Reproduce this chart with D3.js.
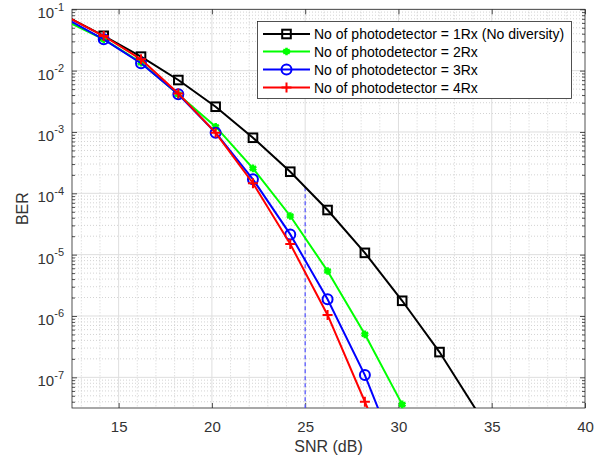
<!DOCTYPE html>
<html>
<head>
<meta charset="utf-8">
<script src="https://cdn.jsdelivr.net/npm/d3@7"></script>
<style>
  html, body { margin: 0; padding: 0; background: #fff; }
  svg { display: block; font-family: "Liberation Sans", Arial, Helvetica, sans-serif; }
</style>
</head>
<body>
<svg id="chart" width="611" height="460"></svg>
<script>
// ---------------- data ----------------
const snr = [12.2, 14.2, 16.2, 18.2, 20.2, 22.2, 24.2, 26.2, 28.2, 30.2, 32.2, 34.2];
const ber1Rx = [0.076, 0.037, 0.0169, 0.00703, 0.00258, 8.05e-4, 2.25e-4, 5.34e-5, 1.07e-5, 1.77e-6, 2.58e-7, 2.83e-8];
const ber2Rx = [0.064, 0.0325, 0.0135, 0.0041, 0.00122, 2.55e-4, 4.27e-5, 5.41e-6, 5.02e-7, 3.62e-8];
const ber3Rx = [0.0697, 0.0324, 0.0132, 0.00411, 0.000973, 1.69e-4, 2.14e-5, 1.87e-6, 1.09e-7, 3.2e-9];
const ber4Rx = [0.0767, 0.0367, 0.0153, 0.00425, 0.00097, 1.46e-4, 1.49e-5, 1.04e-6, 4.0e-8, 1.4e-9];
const seriesNames = [
  "No of photodetector = 1Rx (No diversity)",
  "No of photodetector = 2Rx",
  "No of photodetector = 3Rx",
  "No of photodetector = 4Rx"
];
const xTicks = [15, 20, 25, 30, 35, 40];
const yTickExponents = [-7, -6, -5, -4, -3, -2, -1];
const markerLineX = [25, 25];
const markerLineY = [1.26e-4, 3.162e-8];
const xLabel = "SNR (dB)";
const yLabel = "BER";

// ---------------- layout ----------------
const svg = d3.select("#chart");
const L = 72, R = 585, T = 9.3, B = 408;
const x = d3.scaleLinear().domain([12.5, 40]).range([L, R]);
const y = d3.scaleLog().domain([Math.pow(10, -7.5), 0.1]).range([B, T]);
const axisCol = "#262626";
const labelCol = "#333333";

// grid
const g = svg.append("g");
const minorX = d3.range(13, 40, 1).filter(v => v % 5 !== 0);
g.selectAll(".mgx").data(minorX).enter().append("line")
  .attr("x1", d => x(d)).attr("x2", d => x(d)).attr("y1", T).attr("y2", B)
  .attr("stroke", "#c8c8c8").attr("stroke-width", 0.8).attr("stroke-dasharray", "1,2");
const minorY = [];
for (let e = -8; e <= -2; e++) for (let k = 2; k <= 9; k++) {
  const v = k * Math.pow(10, e);
  if (v > Math.pow(10, -7.5) && v < 0.1) minorY.push(v);
}
g.selectAll(".mgy").data(minorY).enter().append("line")
  .attr("x1", L).attr("x2", R).attr("y1", d => y(d)).attr("y2", d => y(d))
  .attr("stroke", "#c8c8c8").attr("stroke-width", 0.8).attr("stroke-dasharray", "1,2");
g.selectAll(".Mgx").data(xTicks.filter(v => v < 40)).enter().append("line")
  .attr("x1", d => x(d)).attr("x2", d => x(d)).attr("y1", T).attr("y2", B)
  .attr("stroke", "#dedede").attr("stroke-width", 1);
g.selectAll(".Mgy").data(yTickExponents.map(e => Math.pow(10, e))).enter().append("line")
  .attr("x1", L).attr("x2", R).attr("y1", d => y(d)).attr("y2", d => y(d))
  .attr("stroke", "#dedede").attr("stroke-width", 1);

// axes (ticks pointing inward)
const xAxisB = d3.axisBottom(x).tickValues(xTicks).tickSize(-5).tickPadding(13).tickFormat(d3.format("d"));
const xAxisT = d3.axisTop(x).tickValues(xTicks).tickSize(-5).tickFormat("");
const yVals = yTickExponents.map(e => Math.pow(10, e));
const yAxisL = d3.axisLeft(y).tickValues(yVals).tickSize(-5).tickFormat("");
const yAxisR = d3.axisRight(y).tickValues(yVals).tickSize(-5).tickFormat("");
const yMinL = d3.axisLeft(y).tickValues(minorY).tickSize(-3).tickFormat("");
const yMinR = d3.axisRight(y).tickValues(minorY).tickSize(-3).tickFormat("");

function styleAxis(sel) {
  sel.select(".domain").remove();
  sel.selectAll("line").attr("stroke", axisCol).attr("stroke-width", 0.8);
  sel.selectAll("text").attr("fill", labelCol).attr("font-size", 15)
    .attr("font-family", "Liberation Sans, Arial, sans-serif");
}
svg.append("g").attr("transform", `translate(0,${B})`).call(xAxisB).call(styleAxis);
svg.append("g").attr("transform", `translate(0,${T})`).call(xAxisT).call(styleAxis);
const yl = svg.append("g").attr("transform", `translate(${L},0)`).call(yAxisL).call(styleAxis);
svg.append("g").attr("transform", `translate(${R},0)`).call(yAxisR).call(styleAxis);
svg.append("g").attr("transform", `translate(${L},0)`).call(yMinL).call(styleAxis);
svg.append("g").attr("transform", `translate(${R},0)`).call(yMinR).call(styleAxis);

// y tick labels 10^n
yl.selectAll(".tick").each(function(d) {
  const e = Math.round(Math.log10(d));
  const t = d3.select(this).append("text")
    .attr("x", -8).attr("y", 8.5).attr("text-anchor", "end")
    .attr("fill", labelCol).attr("font-size", 15)
    .attr("font-family", "Liberation Sans, Arial, sans-serif");
  t.append("tspan").text("10");
  t.append("tspan").attr("dy", -7.5).attr("font-size", 11).text(String(e));
});

// box
svg.append("rect").attr("x", L).attr("y", T).attr("width", R - L).attr("height", B - T)
  .attr("fill", "none").attr("stroke", axisCol).attr("stroke-width", 0.8);

// axis labels
svg.append("text").attr("x", (L + R) / 2).attr("y", 452).attr("text-anchor", "middle")
  .attr("font-size", 16).attr("fill", labelCol).text(xLabel);
svg.append("text").attr("transform", `translate(28,${(T + B) / 2}) rotate(-90)`)
  .attr("text-anchor", "middle").attr("font-size", 16).attr("fill", labelCol).text(yLabel);

// clip
svg.append("clipPath").attr("id", "clip").append("rect")
  .attr("x", L).attr("y", T).attr("width", R - L).attr("height", B - T);

// series
const series = [
  { name: seriesNames[0], vals: ber1Rx, color: "#000000", marker: "square" },
  { name: seriesNames[1], vals: ber2Rx, color: "#00ff00", marker: "star" },
  { name: seriesNames[2], vals: ber3Rx, color: "#0000ff", marker: "circle" },
  { name: seriesNames[3], vals: ber4Rx, color: "#ff0000", marker: "plus" }
];
const line = d3.line().x(d => x(d[0])).y(d => y(d[1]));

// dashed marker line
svg.append("path").attr("clip-path", "url(#clip)")
  .attr("d", line(markerLineX.map((v, i) => [v, markerLineY[i]])))
  .attr("stroke", "#5a5aff").attr("stroke-width", 1.3).attr("stroke-dasharray", "4,3").attr("fill", "none");

function drawMarker(sel, type, color, cx, cy) {
  if (type === "square") {
    sel.append("rect").attr("x", cx - 4.3).attr("y", cy - 4.3).attr("width", 8.6).attr("height", 8.6)
      .attr("fill", "none").attr("stroke", color).attr("stroke-width", 2);
  } else if (type === "circle") {
    sel.append("circle").attr("cx", cx).attr("cy", cy).attr("r", 5)
      .attr("fill", "none").attr("stroke", color).attr("stroke-width", 2);
  } else if (type === "plus") {
    sel.append("path").attr("d", `M${cx - 5},${cy}H${cx + 5}M${cx},${cy - 5}V${cy + 5}`)
      .attr("stroke", color).attr("stroke-width", 2);
  } else if (type === "star") {
    sel.append("path").attr("transform", `translate(${cx},${cy})`)
      .attr("d", d3.symbol().type(d3.symbolAsterisk).size(40)())
      .attr("stroke", color).attr("stroke-width", 2.6).attr("fill", "none");
    sel.append("circle").attr("cx", cx).attr("cy", cy).attr("r", 2.6).attr("fill", color);
  }
}

series.forEach(s => {
  const pts = s.vals.map((v, i) => [snr[i], v]);
  svg.append("path").attr("clip-path", "url(#clip)").attr("d", line(pts))
    .attr("stroke", s.color).attr("stroke-width", 2).attr("fill", "none");
  const mg = svg.append("g");
  pts.filter(p => p[0] >= 12.5 && p[0] <= 40 && p[1] >= Math.pow(10, -7.5) && p[1] <= 0.1)
    .forEach(p => drawMarker(mg, s.marker, s.color, x(p[0]), y(p[1])));
});

// legend
const lg = svg.append("g");
lg.append("rect").attr("x", 257.5).attr("y", 21.5).attr("width", 314).attr("height", 77)
  .attr("fill", "#fff").attr("stroke", axisCol).attr("stroke-width", 0.8);
const rowY = [34, 51.5, 69.5, 87.5];
series.forEach((s, i) => {
  lg.append("line").attr("x1", 263).attr("x2", 310).attr("y1", rowY[i]).attr("y2", rowY[i])
    .attr("stroke", s.color).attr("stroke-width", 2);
  drawMarker(lg, s.marker, s.color, 286.5, rowY[i]);
  lg.append("text").attr("x", 314).attr("y", rowY[i] + 5).attr("font-size", 14)
    .attr("fill", "#000").text(s.name);
});
</script>
</body>
</html>
